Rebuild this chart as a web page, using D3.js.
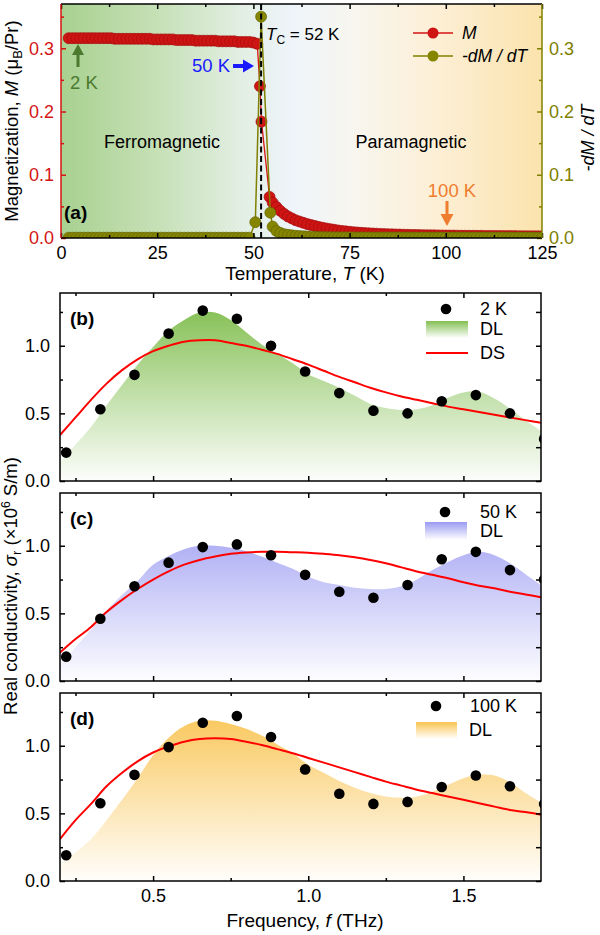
<!DOCTYPE html>
<html><head><meta charset="utf-8">
<script src="https://cdn.jsdelivr.net/npm/d3@7"></script>
<style>body{margin:0;background:#fff}svg text{font-family:"Liberation Sans",Arial,Helvetica,sans-serif}</style>
</head><body><svg id="c" width="600" height="935"></svg>
<script>
// ---------------- DATA ----------------
// Panel (a): magnetization M (muB/Pr) vs temperature T (K)
const tempM = [2,3,4,5,6,7,8,9,10,11,12,13,14,15,16,17,18,19,20,21,22,23,24,25,26,27,28,29,30,31,32,33,34,35,36,37,38,39,40,41,42,43,44,45,46,47,48,49,50,
  51,51.7,52.1,54.2,
  55,56,57,58,59,60,61,62,63,64,65,66,67,68,69,70,71,72,73,74,75,76,77,78,79,80,81,82,83,84,85,86,87,88,89,90,91,92,93,94,95,96,97,98,99,100,101,102,103,104,105,106,107,108,109,110,111,112,113,114,115,116,117,118,119,120,121,122,123,124,125];
const magM = [0.316,0.316,0.316,0.316,0.316,0.316,0.316,0.316,0.316,0.316,0.316,0.316,
  0.315,0.315,0.315,0.315,0.315,0.315,0.315,0.315,0.315,0.315,
  0.314,0.314,0.314,0.314,0.314,0.314,
  0.313,0.313,0.313,0.313,0.313,
  0.312,0.312,0.312,0.312,0.312,0.312,
  0.311,0.311,0.311,0.311,0.311,
  0.310,0.310,0.310,0.310,
  0.309,
  0.307,0.24,0.184,0.065,
  0.056,0.049,0.043,0.038,0.034,0.031,0.028,0.026,0.024,0.022,
  0.0205,0.019,0.0175,0.0162,0.015,0.014,0.013,0.012,0.0112,0.0105,
  0.0098,0.0092,0.0087,0.0082,0.0078,0.0074,0.0071,0.0068,0.0065,0.0062,
  0.006,0.0058,0.0056,0.0054,0.0052,0.005,0.0049,0.0048,0.0046,0.0045,
  0.0044,0.0043,0.0042,0.0041,0.004,0.0039,0.0038,0.0038,0.0037,0.0036,
  0.0036,0.0035,0.0035,0.0034,0.0034,0.0033,0.0033,0.0032,0.0032,0.0031,
  0.0031,0.003,0.003,0.003,0.0029,0.0029,0.0028,0.0028,0.0028,0.0027,
  0.0027];
// Panel (a): -dM/dT vs temperature
const tempD = [2,3,4,5,6,7,8,9,10,11,12,13,14,15,16,17,18,19,20,21,22,23,24,25,26,27,28,29,30,31,32,33,34,35,36,37,38,39,40,41,42,43,44,45,46,47,48,49,
  50.5,52,54.4,55,
  56,57,58,59,60,61,62,63,64,65,66,67,68,69,70,71,72,73,74,75,76,77,78,79,80,81,82,83,84,85,86,87,88,89,90,91,92,93,94,95,96,97,98,99,100,101,102,103,104,105,106,107,108,109,110,111,112,113,114,115,116,117,118,119,120,121,122,123,124,125];
const dMdT = [0.0005,0.0005,0.0005,0.0005,0.0005,0.0005,0.0005,0.0005,0.0005,0.0005,0.0005,0.0005,0.0005,0.0005,0.0005,0.0005,
  0.0005,0.0005,0.0005,0.0005,0.0005,0.0005,0.0005,0.0005,0.0005,0.0005,0.0005,0.0005,0.0005,0.0005,0.0005,0.0005,
  0.0005,0.0005,0.0005,0.0005,0.0005,0.0005,0.0005,0.0005,0.0005,0.0005,0.0005,0.0005,0.0005,0.0005,0.0005,0.0005,
  0.025,0.35,0.04,0.018,
  0.011,0.008,0.006,0.005,0.0042,0.0036,0.0031,0.0027,0.0024,0.0021,
  0.0019,0.0017,0.0015,0.0014,0.0013,0.0012,0.0011,0.0011,0.001,0.001,
  0.001,0.0009,0.0009,0.0009,0.0008,
  0.0008,0.0008,0.0008,0.0008,0.0008,0.0008,0.0008,0.0008,0.0008,0.0008,
  0.0007,0.0007,0.0007,0.0007,0.0007,0.0007,0.0007,0.0007,0.0007,0.0007,0.0007,0.0007,0.0007,0.0007,0.0007,
  0.0006,0.0006,0.0006,0.0006,0.0006,0.0006,0.0006,0.0006,0.0006,0.0006,0.0006,0.0006,0.0006,0.0006,0.0006,0.0006,0.0006,0.0006,0.0006,0.0006];

// Panels (b)-(d): real conductivity (x10^6 S/m) vs frequency (THz)
const freq = [0.22,0.33,0.44,0.55,0.66,0.77,0.88,0.99,1.10,1.21,1.32,1.43,1.54,1.65,1.76];
const sigma2K   = [0.21,0.53,0.785,1.09,1.26,1.20,1.00,0.81,0.65,0.52,0.50,0.59,0.635,0.50,0.31];
const sigma50K  = [0.18,0.46,0.70,0.875,0.99,1.01,0.93,0.785,0.66,0.615,0.71,0.90,0.955,0.82,0.75];
const sigma100K = [0.19,0.575,0.785,0.99,1.17,1.22,1.065,0.825,0.645,0.57,0.585,0.695,0.78,0.70,0.57];
// Model curves sampled on a frequency grid
const fitFreq = [0.2,0.25,0.3,0.35,0.4,0.45,0.5,0.55,0.6,0.65,0.7,0.75,0.8,0.85,0.9,0.95,1.0,1.05,1.1,1.15,1.2,1.25,1.3,1.35,1.4,1.45,1.5,1.55,1.6,1.65,1.7,1.75];
const dl2K   = [0.14,0.27,0.40,0.56,0.71,0.86,0.99,1.11,1.19,1.245,1.245,1.19,1.10,1.01,0.94,0.87,0.79,0.74,0.69,0.63,0.57,0.54,0.525,0.53,0.56,0.615,0.655,0.66,0.61,0.535,0.45,0.37];
const ds2K   = [0.34,0.47,0.60,0.72,0.82,0.90,0.96,1.00,1.03,1.04,1.04,1.02,1.00,0.97,0.94,0.90,0.86,0.815,0.77,0.73,0.69,0.655,0.625,0.60,0.575,0.55,0.53,0.51,0.49,0.47,0.45,0.43];
const dl50K  = [0.12,0.25,0.38,0.52,0.635,0.74,0.86,0.925,0.975,1.0,1.0,0.985,0.96,0.92,0.875,0.83,0.77,0.73,0.71,0.69,0.68,0.68,0.70,0.75,0.82,0.88,0.93,0.955,0.93,0.87,0.79,0.71];
const ds50K  = [0.21,0.31,0.40,0.51,0.60,0.68,0.75,0.81,0.86,0.895,0.92,0.94,0.95,0.955,0.955,0.952,0.948,0.94,0.93,0.915,0.895,0.87,0.84,0.81,0.785,0.76,0.73,0.705,0.685,0.66,0.64,0.62];
const dl100K = [0.12,0.21,0.31,0.45,0.60,0.76,0.93,1.06,1.145,1.185,1.185,1.16,1.125,1.075,1.01,0.945,0.86,0.80,0.74,0.69,0.65,0.625,0.615,0.625,0.66,0.71,0.76,0.785,0.78,0.73,0.65,0.58];
const ds100K = [0.31,0.45,0.57,0.70,0.80,0.885,0.95,0.995,1.03,1.05,1.055,1.05,1.03,1.005,0.975,0.945,0.91,0.875,0.84,0.805,0.77,0.735,0.705,0.675,0.65,0.625,0.60,0.575,0.55,0.525,0.51,0.49];

const tTicks = [0,25,50,75,100,125];
const mTicks = [0,0.1,0.2,0.3];
const sTicks = [0,0.5,1.0];
const fTicks = [0.5,1.0,1.5];

// ---------------- DRAWING ----------------
const svg = d3.select("#c");
const defs = svg.append("defs");
const RED = "#d41515", OLIVE = "#808000";

function styleAxis(g, color, fs) {
  g.select(".domain").remove();
  g.selectAll("line").attr("stroke", color).attr("stroke-width", 1.5);
  g.selectAll("text").attr("fill", color).style("font-size", fs + "px")
    .style("font-family", '"Liberation Sans",Arial,sans-serif');
}
function addAxis(gen, tx, ty, color, fs) {
  const g = svg.append("g").attr("transform", `translate(${tx},${ty})`).call(gen);
  styleAxis(g, color, fs);
  return g;
}

// ===== Panel (a) =====
const A = {l:61, r:542, t:4, b:238};
const xT = d3.scaleLinear().domain([0,125]).range([A.l, A.r]);
const yM = d3.scaleLinear().domain([0,0.37]).range([A.b, A.t]);
const yD = d3.scaleLinear().domain([0,0.37]).range([A.b, A.t]);

const bgA = defs.append("linearGradient").attr("id","bgA").attr("x1",0).attr("x2",1).attr("y1",0).attr("y2",0);
[[0,"#a8d190"],[0.2,"#c6e0b6"],[0.38,"#e3efe4"],[0.48,"#eef4fa"],[0.6,"#f7f6f0"],[0.78,"#fdefd6"],[1,"#fbe3ad"]]
  .forEach(([o,c]) => bgA.append("stop").attr("offset",o).attr("stop-color",c));
svg.append("rect").attr("x",A.l).attr("y",A.t).attr("width",A.r-A.l).attr("height",A.b-A.t).attr("fill","url(#bgA)");

defs.append("clipPath").attr("id","clipA").append("rect")
  .attr("x",A.l).attr("y",A.t).attr("width",A.r-A.l).attr("height",A.b-A.t);
const gA = svg.append("g").attr("clip-path","url(#clipA)");

const mPts = tempM.map((t,i)=>[t,magM[i]]);
const dPts = tempD.map((t,i)=>[t,dMdT[i]]);
gA.append("path").datum(mPts).attr("fill","none").attr("stroke",RED).attr("stroke-width",1.3)
  .attr("d", d3.line().x(d=>xT(d[0])).y(d=>yM(d[1])));
gA.selectAll("circle.m").data(mPts).join("circle").attr("class","m")
  .attr("cx",d=>xT(d[0])).attr("cy",d=>yM(d[1])).attr("r",5.5)
  .attr("fill","#cf1414").attr("stroke","#a30d0d").attr("stroke-width",0.7);
gA.append("path").datum(dPts).attr("fill","none").attr("stroke",OLIVE).attr("stroke-width",1.5)
  .attr("d", d3.line().x(d=>xT(d[0])).y(d=>yD(d[1])));
gA.selectAll("circle.d").data(dPts).join("circle").attr("class","d")
  .attr("cx",d=>xT(d[0])).attr("cy",d=>yD(d[1])).attr("r",5.5)
  .attr("fill","#858500").attr("stroke","#666600").attr("stroke-width",0.7);
// Tc dashed line
svg.append("line").attr("x1",xT(52)).attr("x2",xT(52)).attr("y1",A.t).attr("y2",A.b)
  .attr("stroke","#000").attr("stroke-width",2).attr("stroke-dasharray","6,3.5");

// axes (a)
addAxis(d3.axisBottom(xT).tickValues(tTicks).tickFormat(d3.format("d")).tickSize(-5).tickPadding(8), 0, A.b, "#000", 18);
addAxis(d3.axisBottom(xT).tickValues([12.5,37.5,62.5,87.5,112.5]).tickFormat("").tickSize(-3), 0, A.b, "#000", 18);
addAxis(d3.axisTop(xT).tickValues(tTicks).tickFormat("").tickSize(-5), 0, A.t, "#000", 18);
addAxis(d3.axisTop(xT).tickValues([12.5,37.5,62.5,87.5,112.5]).tickFormat("").tickSize(-3), 0, A.t, "#000", 18);
addAxis(d3.axisLeft(yM).tickValues(mTicks).tickFormat(d3.format(".1f")).tickSize(-5).tickPadding(7), A.l, 0, RED, 18);
addAxis(d3.axisLeft(yM).tickValues([0.05,0.15,0.25,0.35]).tickFormat("").tickSize(-3), A.l, 0, RED, 18);
addAxis(d3.axisRight(yD).tickValues(mTicks).tickFormat(d3.format(".1f")).tickSize(-5).tickPadding(7), A.r, 0, OLIVE, 18);
addAxis(d3.axisRight(yD).tickValues([0.05,0.15,0.25,0.35]).tickFormat("").tickSize(-3), A.r, 0, OLIVE, 18);
// frame (a)
svg.append("line").attr("x1",A.l).attr("x2",A.r).attr("y1",A.t).attr("y2",A.t).attr("stroke","#000").attr("stroke-width",1.5);
svg.append("line").attr("x1",A.l).attr("x2",A.r).attr("y1",A.b).attr("y2",A.b).attr("stroke","#000").attr("stroke-width",1.5);
svg.append("line").attr("x1",A.l).attr("x2",A.l).attr("y1",A.t).attr("y2",A.b).attr("stroke",RED).attr("stroke-width",1.5);
svg.append("line").attr("x1",A.r).attr("x2",A.r).attr("y1",A.t).attr("y2",A.b).attr("stroke",OLIVE).attr("stroke-width",1.5);

// annotations (a)
function txt(x,y,s,opt={}) {
  const t = svg.append("text").attr("x",x).attr("y",y).style("font-size",(opt.fs||18)+"px")
    .attr("fill",opt.fill||"#000").attr("text-anchor",opt.anchor||"start");
  if (opt.weight) t.style("font-weight",opt.weight);
  if (opt.italic) t.style("font-style","italic");
  if (s !== null) t.text(s);
  return t;
}
txt(162,148,"Ferromagnetic",{anchor:"middle"});
txt(411,148,"Paramagnetic",{anchor:"middle"});
txt(64,219,"(a)",{fs:19,weight:"bold"});
const tc = txt(266,40,null,{fs:17});
tc.append("tspan").style("font-style","italic").text("T");
tc.append("tspan").attr("dy",4).style("font-size","12px").text("C");
tc.append("tspan").attr("dy",-4).text(" = 52 K");
// 2 K arrow
txt(70,89,"2 K",{fill:"#4b7a2e",fs:18.5});
svg.append("path").attr("fill","#4b7a2e").attr("d","M76.5,67 L79.5,67 L79.5,55 L84,55 L78,44 L72,55 L76.5,55 Z");
// 50 K arrow
txt(230,72,"50 K",{fill:"#1a1aff",fs:18.5,anchor:"end"});
svg.append("path").attr("fill","#1a1aff").attr("d","M233,64 L243,64 L243,59.5 L254,66 L243,72.5 L243,68 L233,68 Z");
// 100 K arrow
txt(452,197,"100 K",{fill:"#ef7d2e",fs:18.5,anchor:"middle"});
svg.append("path").attr("fill","#ef7d2e").attr("d","M445.5,201 L448.5,201 L448.5,214 L453.5,214 L447,226 L440.5,214 L445.5,214 Z");

// legend (a)
[[33,RED,"#cf1414","M"],[56,OLIVE,"#858500","-dM / dT"]].forEach(([y,lc,fc,lab])=>{
  svg.append("line").attr("x1",413).attr("x2",453).attr("y1",y).attr("y2",y).attr("stroke",lc).attr("stroke-width",1.5);
  svg.append("circle").attr("cx",433).attr("cy",y).attr("r",5.5).attr("fill",fc);
  txt(462,y+6,lab,{italic:true,fs:17.5});
});

// axis titles (a)
const tA = svg.append("text").attr("transform","translate(18,121) rotate(-90)").attr("text-anchor","middle")
  .style("font-size","18.5px").attr("fill","#000");
tA.append("tspan").text("Magnetization, ");
tA.append("tspan").style("font-style","italic").text("M");
tA.append("tspan").text(" (μ");
tA.append("tspan").attr("dy",4).style("font-size","13px").text("B");
tA.append("tspan").attr("dy",-4).text("/Pr)");
svg.append("text").attr("transform","translate(594,138) rotate(-90)").attr("text-anchor","middle")
  .style("font-size","18px").style("font-style","italic").text("-dM / dT");
const tx = svg.append("text").attr("x",305).attr("y",280).attr("text-anchor","middle").style("font-size","19px");
tx.append("tspan").text("Temperature, ");
tx.append("tspan").style("font-style","italic").text("T");
tx.append("tspan").text(" (K)");

// ===== Panels (b)-(d) =====
const PL = 60, PR = 541;
const xF = d3.scaleLinear().domain([0.2,1.75]).range([PL, PR]);
const panels = [
  {id:"b", bottom:481, pts:sigma2K, dl:dl2K, ds:ds2K, c:"#83bf52", name:"2 K",
   leg:{dot:[446,309], tx:480, sw:[426,321,42,17], dlY:335, dsY:353}},
  {id:"c", bottom:681, pts:sigma50K, dl:dl50K, ds:ds50K, c:"#9a9af2", name:"50 K",
   leg:{dot:[445,512], tx:480, sw:[425,522,42,18], dlY:537}},
  {id:"d", bottom:881, pts:sigma100K, dl:dl100K, ds:ds100K, c:"#f9c452", name:"100 K",
   leg:{dot:[436,706], tx:470, sw:[416,722,41,17], dlY:736, dlX:469}}
];
panels.forEach((p,i)=>{
  const top = p.bottom - 188;
  const y = d3.scaleLinear().domain([0,1.39]).range([p.bottom, top]);
  const gid = "g"+p.id;
  const gr = defs.append("linearGradient").attr("id",gid).attr("gradientUnits","userSpaceOnUse")
    .attr("x1",0).attr("x2",0).attr("y1",y(1.3)).attr("y2",y(0));
  gr.append("stop").attr("offset",0).attr("stop-color",p.c);
  gr.append("stop").attr("offset",0.45).attr("stop-color",p.c).attr("stop-opacity",0.55);
  gr.append("stop").attr("offset",1).attr("stop-color",p.c).attr("stop-opacity",0.02);
  const sg = defs.append("linearGradient").attr("id","s"+p.id).attr("x1",0).attr("x2",0).attr("y1",0).attr("y2",1);
  sg.append("stop").attr("offset",0).attr("stop-color",p.c);
  sg.append("stop").attr("offset",1).attr("stop-color",p.c).attr("stop-opacity",0);
  defs.append("clipPath").attr("id","clip"+p.id).append("rect")
    .attr("x",PL).attr("y",top).attr("width",PR-PL).attr("height",p.bottom-top);
  const g = svg.append("g").attr("clip-path",`url(#clip${p.id})`);
  g.append("path").datum(fitFreq.map((f,k)=>[f,p.dl[k]])).attr("fill",`url(#${gid})`)
    .attr("d", d3.area().x(d=>xF(d[0])).y0(y(0)).y1(d=>y(d[1])).curve(d3.curveCatmullRom));
  g.append("path").datum(fitFreq.map((f,k)=>[f,p.ds[k]])).attr("fill","none").attr("stroke","#ff0000").attr("stroke-width",2)
    .attr("d", d3.line().x(d=>xF(d[0])).y(d=>y(d[1])).curve(d3.curveCatmullRom));
  g.selectAll("circle").data(freq.map((f,k)=>[f,p.pts[k]])).join("circle")
    .attr("cx",d=>xF(d[0])).attr("cy",d=>y(d[1])).attr("r",5.3).attr("fill","#000");
  // axes
  addAxis(d3.axisBottom(xF).tickValues(fTicks).tickFormat(i===2?d3.format(".1f"):"").tickSize(-5).tickPadding(8), 0, p.bottom, "#000", 18);
  addAxis(d3.axisBottom(xF).tickValues([0.25,0.75,1.25]).tickFormat("").tickSize(-3), 0, p.bottom, "#000", 18);
  addAxis(d3.axisTop(xF).tickValues(fTicks).tickFormat("").tickSize(-5), 0, top, "#000", 18);
  addAxis(d3.axisTop(xF).tickValues([0.25,0.75,1.25]).tickFormat("").tickSize(-3), 0, top, "#000", 18);
  addAxis(d3.axisLeft(y).tickValues(sTicks).tickFormat(d3.format(".1f")).tickSize(-5).tickPadding(10), PL, 0, "#000", 18);
  addAxis(d3.axisLeft(y).tickValues([0.25,0.75,1.25]).tickFormat("").tickSize(-3), PL, 0, "#000", 18);
  addAxis(d3.axisRight(y).tickValues([0,0.25,0.5,0.75,1.0,1.25]).tickFormat("").tickSize(-5), PR, 0, "#000", 18);
  svg.append("rect").attr("x",PL).attr("y",top).attr("width",PR-PL).attr("height",p.bottom-top)
    .attr("fill","none").attr("stroke","#000").attr("stroke-width",1.5);
  txt(70, top+32, `(${p.id})`, {fs:19, weight:"bold"});
  // legend
  const L = p.leg;
  svg.append("circle").attr("cx",L.dot[0]).attr("cy",L.dot[1]).attr("r",5.3).attr("fill","#000");
  txt(L.tx, L.dot[1]+6, p.name, {fs:18});
  svg.append("rect").attr("x",L.sw[0]).attr("y",L.sw[1]).attr("width",L.sw[2]).attr("height",L.sw[3]).attr("fill",`url(#s${p.id})`);
  txt(L.dlX||L.tx, L.dlY, "DL", {fs:18});
  if (L.dsY) {
    svg.append("line").attr("x1",426).attr("x2",468).attr("y1",L.dsY).attr("y2",L.dsY).attr("stroke","#ff0000").attr("stroke-width",2);
    txt(L.tx, L.dsY+6, "DS", {fs:18});
  }
});

// titles (b)-(d)
const tS = svg.append("text").attr("transform","translate(17,586) rotate(-90)").attr("text-anchor","middle").style("font-size","18.5px");
tS.append("tspan").text("Real conductivity, ");
tS.append("tspan").style("font-style","italic").text("σ");
tS.append("tspan").attr("dy",4).style("font-size","13px").text("r");
tS.append("tspan").attr("dy",-4).text(" (×10");
tS.append("tspan").attr("dy",-7).style("font-size","12px").text("6");
tS.append("tspan").attr("dy",7).text(" S/m)");
const tF = svg.append("text").attr("x",305).attr("y",927).attr("text-anchor","middle").style("font-size","19px");
tF.append("tspan").text("Frequency, ");
tF.append("tspan").style("font-style","italic").text("f");
tF.append("tspan").text(" (THz)");
</script></body></html>
